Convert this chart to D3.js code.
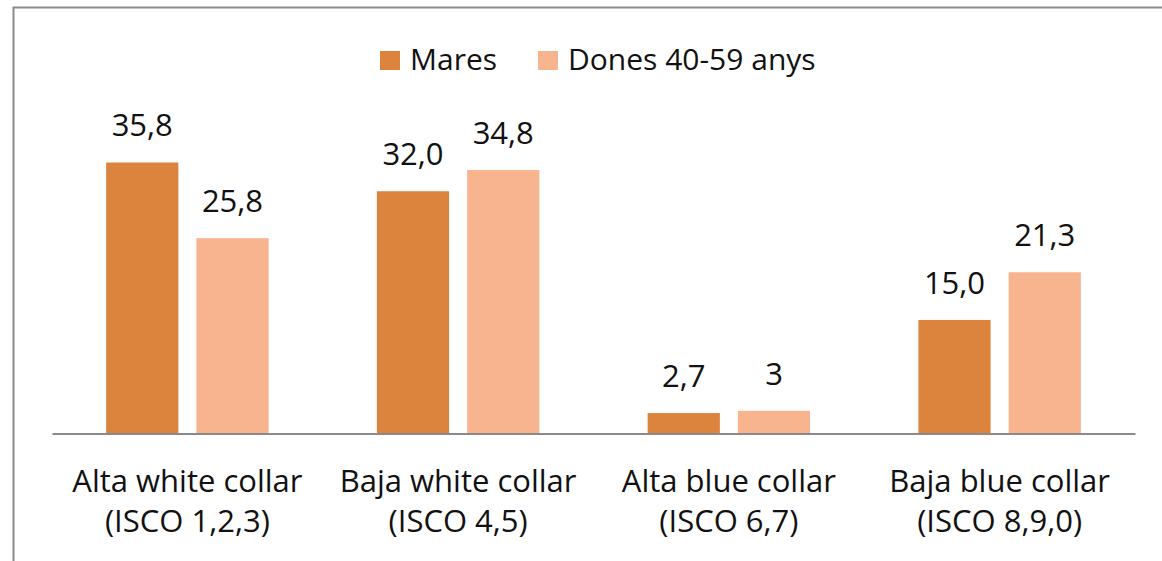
<!DOCTYPE html>
<html>
<head>
<meta charset="utf-8">
<script src="https://cdn.jsdelivr.net/npm/d3@7"></script>
<style>
    body { margin: 0; background: #fff; }
    text { font-family: "Open Sans", sans-serif; fill: #111; }
</style>
</head>
<body>
<div id="chart"></div>
<script>
// data
let categories = ["Alta white collar|(ISCO 1,2,3)", "Baja white collar|(ISCO 4,5)", "Alta blue collar|(ISCO 6,7)", "Baja blue collar|(ISCO 8,9,0)"];
let seriesNames = ["Mares", "Dones 40-59 anys"];
let mares = [35.8, 32.0, 2.7, 15.0];
let dones = [25.8, 34.8, 3, 21.3];
let labelsMares = ["35,8", "32,0", "2,7", "15,0"];
let labelsDones = ["25,8", "34,8", "3", "21,3"];
let colors = ["#dc843e", "#f8b48e"];

let width = 1162, height = 561;

let svg = d3.select("#chart")
    .append("svg")
    .attr("width", width)
    .attr("height", height);

// frame
svg.append("path")
    .attr("d", "M13.5,570 V7.5 H1170")
    .attr("fill", "none")
    .attr("stroke", "#8a8a8a")
    .attr("stroke-width", 2);

let x0 = d3.scaleBand()
    .domain(categories)
    .range([52, 1135]);

let x1 = d3.scaleBand()
    .domain(seriesNames)
    .range([0, x0.bandwidth()])
    .paddingInner(0.2)
    .paddingOuter(0.6);

let y = d3.scaleLinear()
    .domain([0, 40])
    .range([433.5, 130.7]);

let rows = categories.map((c, i) => ({
    cat: c,
    values: [
        {name: seriesNames[0], v: mares[i], label: labelsMares[i], color: colors[0]},
        {name: seriesNames[1], v: dones[i], label: labelsDones[i], color: colors[1]}
    ]
}));

let groups = svg.selectAll(".group")
    .data(rows)
    .enter()
    .append("g")
    .attr("class", "group")
    .attr("transform", d => "translate(" + x0(d.cat) + ",0)");

groups.selectAll("rect")
    .data(d => d.values)
    .enter()
    .append("rect")
    .attr("x", d => x1(d.name))
    .attr("width", x1.bandwidth())
    .attr("y", d => y(d.v))
    .attr("height", d => y(0) - y(d.v))
    .attr("fill", d => d.color);

groups.selectAll(".value")
    .data(d => d.values)
    .enter()
    .append("text")
    .attr("class", "value")
    .attr("x", d => x1(d.name) + x1.bandwidth() / 2)
    .attr("y", d => y(d.v) - 26)
    .attr("text-anchor", "middle")
    .style("font-size", "31px")
    .text(d => d.label);

// x axis
let xAxis = d3.axisBottom(x0).tickSize(0).tickSizeOuter(0).tickFormat("");
let axisG = svg.append("g")
    .attr("transform", "translate(0," + y(0) + ")")
    .call(xAxis);
axisG.select(".domain")
    .attr("stroke", "#8a8a8a")
    .attr("stroke-width", 2);

axisG.selectAll(".tick").each(function(d) {
    let lines = d.split("|");
    let t = d3.select(this).append("text")
        .attr("text-anchor", "middle")
        .style("font-size", "31px")
        .style("fill", "#111");
    lines.forEach((l, i) => {
        t.append("tspan")
            .attr("x", 0)
            .attr("y", 58.5 + i * 40)
            .text(l);
    });
});

// legend
let legendX = [380, 538];
let legend = svg.selectAll(".legend")
    .data(seriesNames)
    .enter()
    .append("g")
    .attr("class", "legend")
    .attr("transform", (d, i) => "translate(" + legendX[i] + ",51)");

legend.append("rect")
    .attr("width", 20)
    .attr("height", 19)
    .attr("fill", (d, i) => colors[i]);

legend.append("text")
    .attr("x", 30)
    .attr("y", 18.5)
    .style("font-size", "30px")
    .text(d => d);
</script>
</body>
</html>
